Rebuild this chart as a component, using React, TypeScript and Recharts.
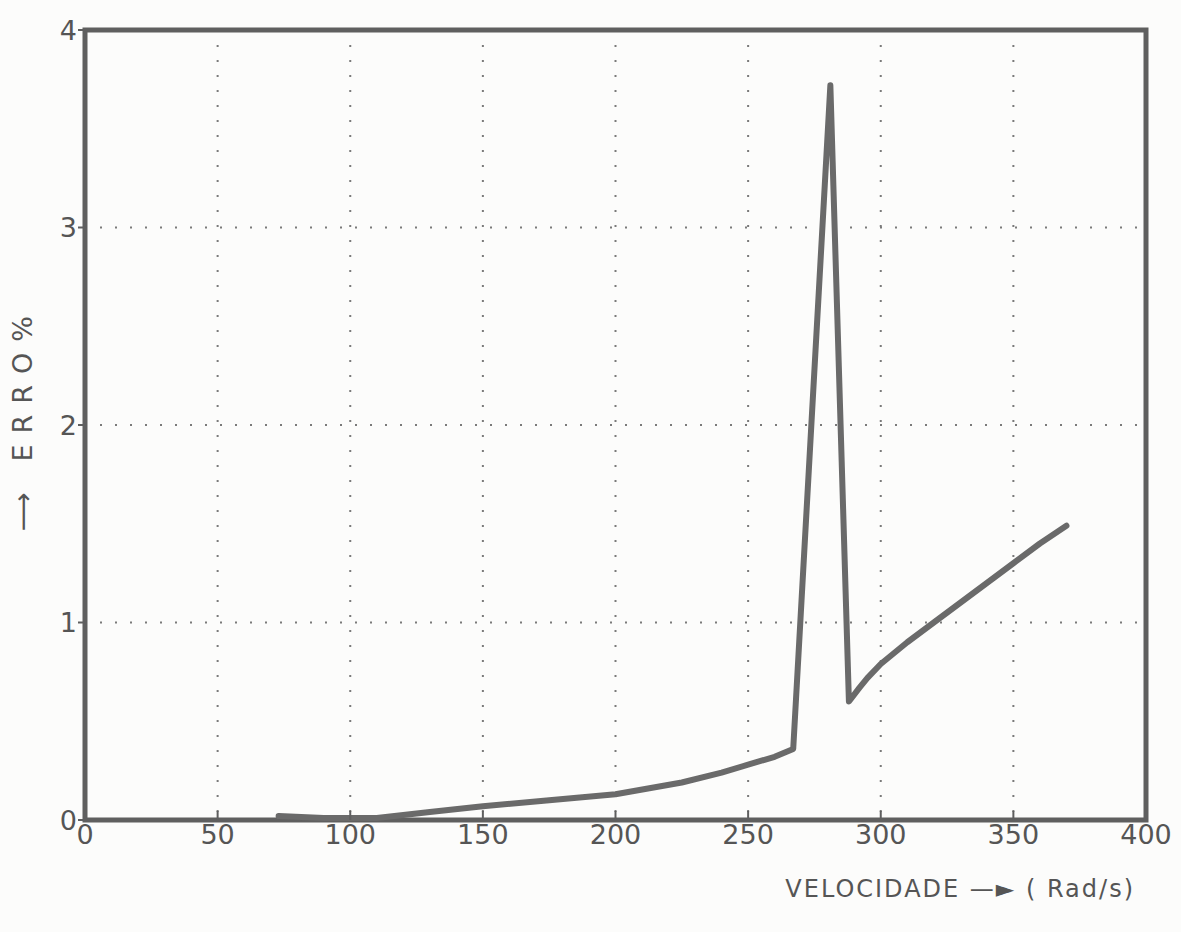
import { LineChart, Line, XAxis, YAxis, CartesianGrid, ReferenceArea } from 'recharts';

const velocidade = [73, 90, 110, 130, 150, 175, 200, 225, 240, 250, 260, 267, 281, 288, 292, 295, 300, 310, 320, 330, 340, 350, 360, 370];
const erro = [0.02, 0.01, 0.01, 0.04, 0.07, 0.1, 0.13, 0.19, 0.24, 0.28, 0.32, 0.36, 3.72, 0.6, 0.67, 0.72, 0.79, 0.9, 1.0, 1.1, 1.2, 1.3, 1.4, 1.49];
const xTicks = [0, 50, 100, 150, 200, 250, 300, 350, 400];
const yTicks = [0, 1, 2, 3, 4];

const data = velocidade.map((v, i) => ({ v, e: erro[i] }));

const ink = '#5f5f5f';
const font = '"DejaVu Sans", sans-serif';

export default function App() {
  return (
    <div style={{ position: 'absolute', left: 0, top: 0, width: 1181, height: 932, background: '#fcfcfb' }}>
      <LineChart width={1181} height={932} data={data} margin={{ top: 30, right: 35, left: 0, bottom: 62 }}>
        <CartesianGrid stroke="#7a7a7a" strokeWidth={2} strokeDasharray="2 13" />
        <XAxis
          dataKey="v"
          type="number"
          domain={[0, 400]}
          ticks={xTicks}
          axisLine={false}
          tickSize={-9}
          tickMargin={14}
          tickLine={{ stroke: ink, strokeWidth: 2 }}
          tick={{ fill: '#555', fontSize: 27, fontFamily: font }}
          height={50}
          label={() => (
            <text x={1135} y={897} textAnchor="end" fill="#555" fontSize={24} fontFamily={font} letterSpacing={2}>
              VELOCIDADE —► ( Rad/s)
            </text>
          )}
        />
        <YAxis
          type="number"
          domain={[0, 4]}
          ticks={yTicks}
          width={85}
          axisLine={false}
          tickSize={7}
          tickMargin={1}
          tickLine={{ stroke: ink, strokeWidth: 2 }}
          tick={{ fill: '#555', fontSize: 27, fontFamily: font }}
          label={() => {
            const cx = 24;
            const cy = 418;
            return (
              <text
                x={cx}
                y={cy}
                transform={`rotate(-90 ${cx} ${cy})`}
                textAnchor="middle"
                dominantBaseline="middle"
                fill="#555"
                fontSize={27}
                fontFamily={font}
                letterSpacing={11}
              >
                ⟶ ERRO%
              </text>
            );
          }}
        />
        <ReferenceArea x1={0} x2={400} y1={0} y2={4} fill="none" stroke={ink} strokeWidth={5} ifOverflow="visible" />
        <Line
          type="linear"
          dataKey="e"
          stroke="#6a6a6a"
          strokeWidth={6}
          strokeLinejoin="round"
          strokeLinecap="round"
          dot={false}
          isAnimationActive={false}
        />
      </LineChart>
    </div>
  );
}
